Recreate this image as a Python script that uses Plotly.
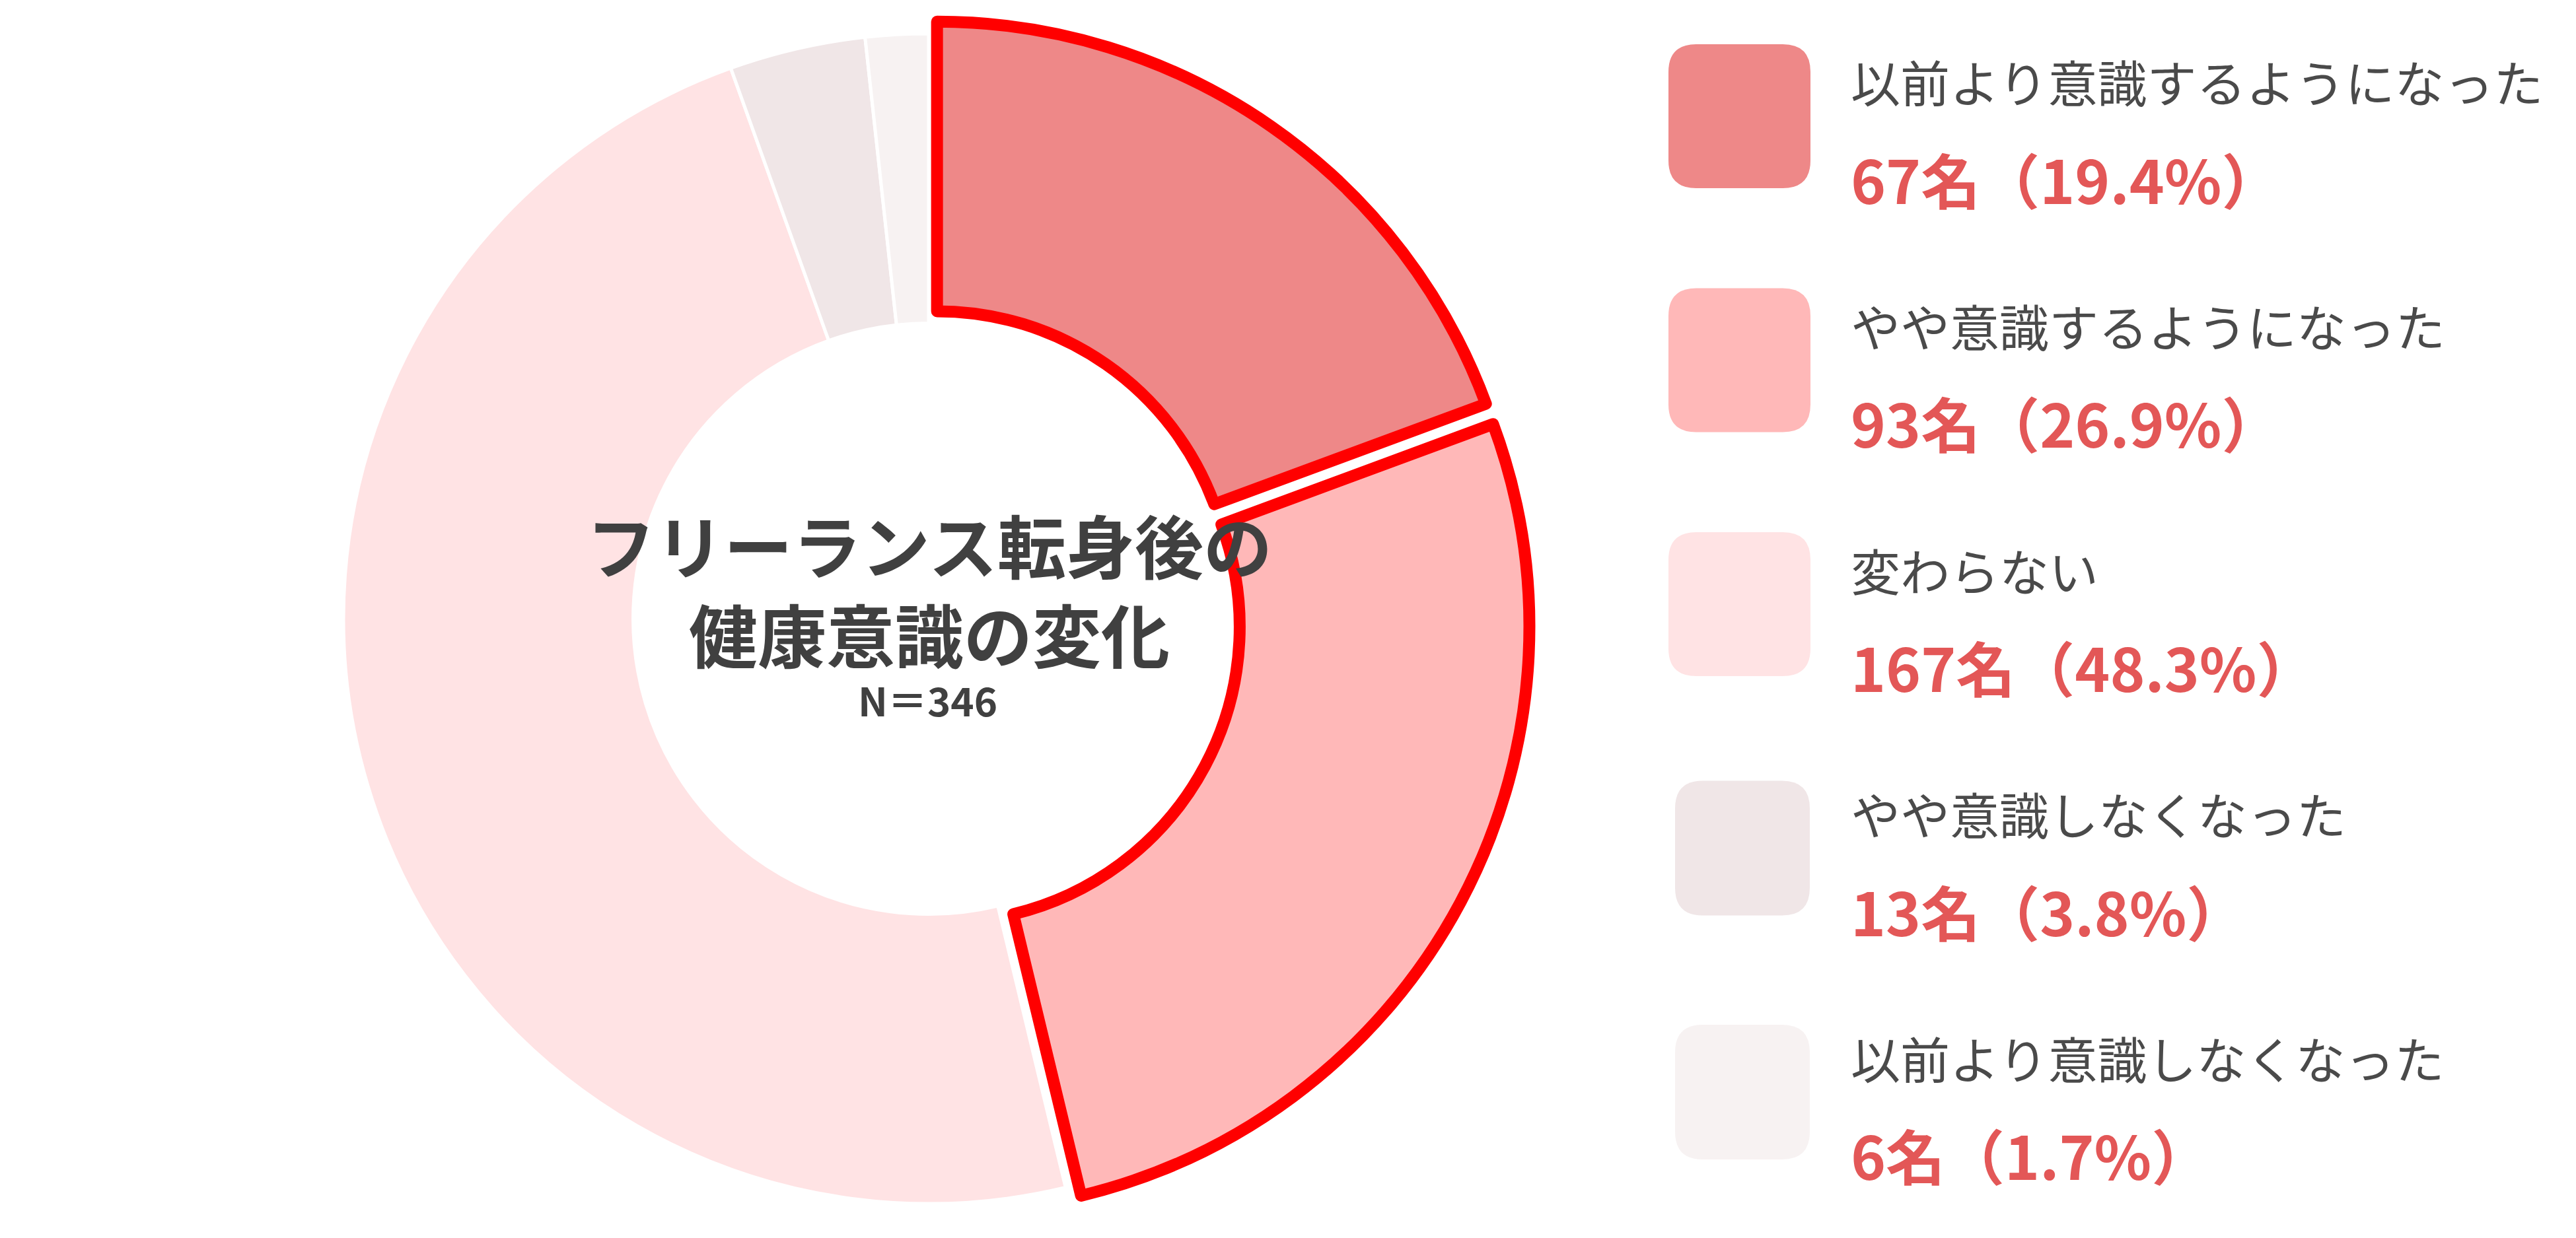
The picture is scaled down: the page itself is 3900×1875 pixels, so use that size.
import plotly.graph_objects as go

# Survey: change in health awareness after becoming a freelancer (N=346)
labels = [
    "以前より意識するようになった",
    "やや意識するようになった",
    "変わらない",
    "やや意識しなくなった",
    "以前より意識しなくなった",
]
counts = [67, 93, 167, 13, 6]
highlight = [True, True, False, False, False]

slice_colors = ["#EE8888", "#FFB8B8", "#FFE3E4", "#F0E6E7", "#F7F2F2"]
count_color = "#E35757"
label_color = "#4A4A4A"
title_color = "#404040"

W, H = 3900, 1875
total = sum(counts)
percents = [round(c / total * 100, 1) for c in counts]


def px(x):
    return x / W


def py(y):
    return 1 - y / H


fig = go.Figure()

# Donut: centre (1406, 937) px, outer radius ~886 px
max_pull = 0.03
pulls = [0.025 if h else 0.0 for h in highlight]
pulls[1] = max_pull
box = 886 * 2 * (1 + max_pull)
cx, cy = 1406, 937
fig.add_trace(go.Pie(
    labels=labels,
    values=counts,
    sort=False,
    direction="clockwise",
    rotation=0,
    hole=0.505,
    pull=pulls,
    textinfo="none",
    hoverinfo="label+value+percent",
    showlegend=False,
    marker=dict(
        colors=slice_colors,
        line=dict(
            color=["#FF0000" if h else "#FFFFFF" for h in highlight],
            width=[18 if h else 5 for h in highlight],
        ),
    ),
    domain=dict(
        x=[px(cx - box / 2), px(cx + box / 2)],
        y=[py(cy + box / 2), py(cy - box / 2)],
    ),
))

# Centre title: two bold lines in one text block, sample size below
center_font = "Noto Sans CJK JP"
fig.add_annotation(x=px(1407), y=py(891), xref="paper", yref="paper",
                   text="<b>フリーランス転身後の<br>健康意識の変化</b>", showarrow=False,
                   xanchor="center", yanchor="middle", align="center",
                   font=dict(family=center_font, size=104, color=title_color))
fig.add_annotation(x=px(1404), y=py(1058), xref="paper", yref="paper",
                   text=f"<b>N＝{total}</b>", showarrow=False,
                   xanchor="center", yanchor="middle",
                   font=dict(family=center_font, size=60, color=title_color))

# Custom legend: rounded swatch + label + count/percentage
row_step = 369.5
swatch_boxes = [
    (2526, 2741, 218),
    (2526, 2741, 218),
    (2526, 2741, 218),
    (2536, 2740, 204),
    (2536, 2740, 204),
]


def rounded_rect(x0, y0, x1, y1, r):
    pts = [
        f"M{px(x0 + r)},{py(y0)}",
        f"L{px(x1 - r)},{py(y0)}",
        f"Q{px(x1)},{py(y0)} {px(x1)},{py(y0 + r)}",
        f"L{px(x1)},{py(y1 - r)}",
        f"Q{px(x1)},{py(y1)} {px(x1 - r)},{py(y1)}",
        f"L{px(x0 + r)},{py(y1)}",
        f"Q{px(x0)},{py(y1)} {px(x0)},{py(y1 - r)}",
        f"L{px(x0)},{py(y0 + r)}",
        f"Q{px(x0)},{py(y0)} {px(x0 + r)},{py(y0)}",
        "Z",
    ]
    return " ".join(pts)


for i, (lab, cnt, pct, col) in enumerate(zip(labels, counts, percents, slice_colors)):
    x0, x1, hgt = swatch_boxes[i]
    ymid = 176 + row_step * i
    fig.add_shape(type="path", xref="paper", yref="paper",
                  path=rounded_rect(x0, ymid - hgt / 2, x1, ymid + hgt / 2, 42),
                  fillcolor=col, line=dict(width=0), layer="above")
    fig.add_annotation(x=px(2800), y=py(123 + row_step * i), xref="paper", yref="paper",
                       text=lab, showarrow=False, xanchor="left", yanchor="middle",
                       font=dict(family="Noto Sans CJK JP", size=75, color=label_color))
    fig.add_annotation(x=px(2800), y=py(270 + row_step * i), xref="paper", yref="paper",
                       text=f"<b>{cnt}名（{pct}%）</b>", showarrow=False,
                       xanchor="left", yanchor="middle",
                       font=dict(family="Noto Sans CJK JP", size=90, color=count_color))

fig.update_layout(
    width=W, height=H,
    margin=dict(l=0, r=0, t=0, b=0),
    paper_bgcolor="#FFFFFF",
    plot_bgcolor="#FFFFFF",
    showlegend=False,
)

fig.write_html("out.html")
